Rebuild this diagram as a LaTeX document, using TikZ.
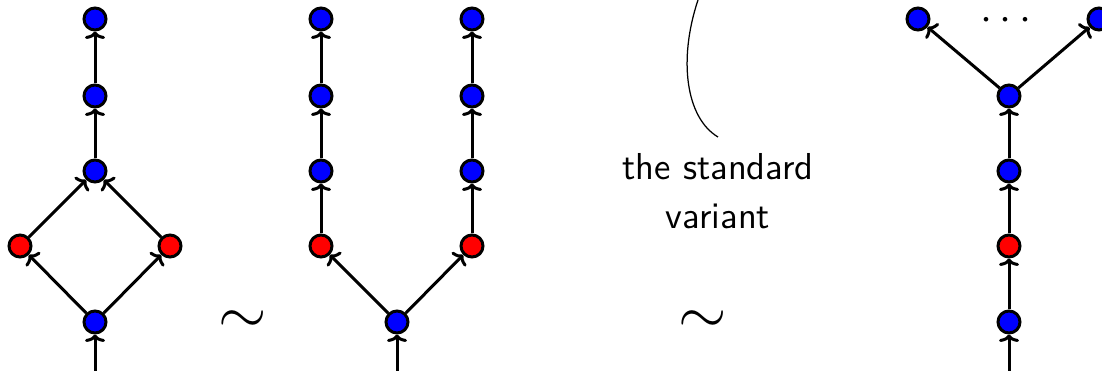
\documentclass[tikz,border=0pt]{standalone}
\usetikzlibrary{arrows.meta}
\begin{document}
\begin{tikzpicture}[x=0.4pt,y=-0.4pt,
  vb/.style={circle,draw,line width=1.2pt,fill=blue,inner sep=0pt,minimum size=8.8pt},
  vr/.style={vb,fill=red},
  ar/.style={line width=1.2pt,-{To[width=8pt,length=3pt]}},
  lbl/.style={font=\sffamily\fontsize{15}{18}\selectfont,inner sep=0pt},
  tl/.style={font=\fontsize{24.88}{30}\selectfont,inner sep=0pt}]
\useasboundingbox (0,0) rectangle (1102,371);
% diagram 1
\coordinate (a0) at (95,371);
\node[vb] (a1) at (95,322) {};
\node[vr] (a2) at (20,246) {};
\node[vr] (a3) at (170,246) {};
\node[vb] (a4) at (95,171) {};
\node[vb] (a5) at (95,96) {};
\node[vb] (a6) at (95,19) {};
\draw[ar] (a0) -- (a1);
\draw[ar] (a1) -- (a2);
\draw[ar] (a1) -- (a3);
\draw[ar] (a2) -- (a4);
\draw[ar] (a3) -- (a4);
\draw[ar] (a4) -- (a5);
\draw[ar] (a5) -- (a6);
% tilde 1
\node[tl] (t1) at (243,322) {$\sim$};
% diagram 2
\coordinate (b0) at (397,371);
\node[vb] (b1) at (397,322) {};
\node[vr] (b2) at (321,246) {};
\node[vr] (b3) at (472,246) {};
\node[vb] (b4) at (321,171) {};
\node[vb] (b5) at (321,96) {};
\node[vb] (b6) at (321,19) {};
\node[vb] (b7) at (472,171) {};
\node[vb] (b8) at (472,96) {};
\node[vb] (b9) at (472,19) {};
\draw[ar] (b0) -- (b1);
\draw[ar] (b1) -- (b2);
\draw[ar] (b1) -- (b3);
\draw[ar] (b2) -- (b4);
\draw[ar] (b4) -- (b5);
\draw[ar] (b5) -- (b6);
\draw[ar] (b3) -- (b7);
\draw[ar] (b7) -- (b8);
\draw[ar] (b8) -- (b9);
% label and curve
\node[lbl,anchor=base] (l1) at (718,180) {the standard};
\node[lbl,anchor=base] (l2) at (718,229) {variant};
\coordinate (k1) at (718,137);
\coordinate (k0) at (698,0);
\draw[line width=0.5pt] (k1) .. controls (686,118) and (678,60) .. (k0);
% tilde 2
\node[tl] (t2) at (703,322) {$\sim$};
% diagram 3
\coordinate (c0) at (1009,371);
\node[vb] (c1) at (1009,322) {};
\node[vr] (c2) at (1009,246) {};
\node[vb] (c3) at (1009,171) {};
\node[vb] (c4) at (1009,96) {};
\node[vb] (c5) at (918,19) {};
\node[vb] (c6) at (1099,19) {};
\node[font=\fontsize{18}{20}\selectfont,inner sep=0pt,text height=6pt,text depth=0pt] (dots) at (1006,23) {$\cdots$};
\draw[ar] (c0) -- (c1);
\draw[ar] (c1) -- (c2);
\draw[ar] (c2) -- (c3);
\draw[ar] (c3) -- (c4);
\draw[ar] (c4) -- (c5);
\draw[ar] (c4) -- (c6);
\end{tikzpicture}
\end{document}
